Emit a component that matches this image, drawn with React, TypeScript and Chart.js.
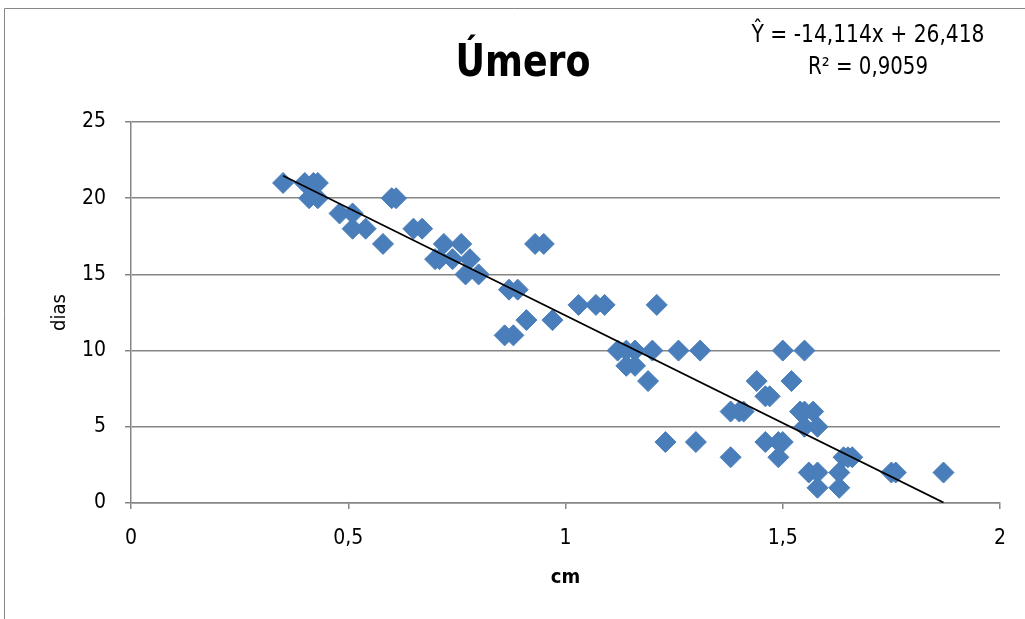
import React, { useEffect, useRef } from 'react';
import { Chart, registerables } from 'chart.js';

Chart.register(...registerables);

const cm = [
  0.35, 0.40, 0.42, 0.43,
  0.41, 0.43, 0.60, 0.61,
  0.48, 0.51,
  0.51, 0.54, 0.65, 0.67,
  0.58, 0.72, 0.76, 0.93, 0.95,
  0.70, 0.71, 0.74, 0.78,
  0.77, 0.80,
  0.87, 0.89,
  1.03, 1.07, 1.09, 1.21,
  0.91, 0.97,
  0.86, 0.88,
  1.12, 1.14, 1.16, 1.20, 1.26, 1.31, 1.50, 1.55,
  1.14, 1.16,
  1.19, 1.44, 1.52,
  1.46, 1.47,
  1.38, 1.40, 1.41, 1.54, 1.55, 1.57,
  1.55, 1.58,
  1.23, 1.30, 1.46, 1.49, 1.50,
  1.38, 1.49, 1.64, 1.65, 1.66,
  1.56, 1.58, 1.63, 1.75, 1.76, 1.87,
  1.58, 1.63,
];
const dias = [
  21, 21, 21, 21,
  20, 20, 20, 20,
  19, 19,
  18, 18, 18, 18,
  17, 17, 17, 17, 17,
  16, 16, 16, 16,
  15, 15,
  14, 14,
  13, 13, 13, 13,
  12, 12,
  11, 11,
  10, 10, 10, 10, 10, 10, 10, 10,
  9, 9,
  8, 8, 8,
  7, 7,
  6, 6, 6, 6, 6, 6,
  5, 5,
  4, 4, 4, 4, 4,
  3, 3, 3, 3, 3,
  2, 2, 2, 2, 2, 2,
  1, 1,
];

const slope = -14.114;
const intercept = 26.418;

const xTickLabels = ['0', '0,5', '1', '1,5', '2'];
const yTickLabels = ['0', '5', '10', '15', '20', '25'];

const chartTitle = 'Úmero';
const equationText = 'Ŷ = -14,114x + 26,418';
const r2Text = 'R² = 0,9059';
const xTitle = 'cm';
const yTitle = 'dias';

const FONT = '"Liberation Sans Narrow", "DejaVu Sans Condensed", "Liberation Sans", sans-serif';

function drawFitted(ctx: CanvasRenderingContext2D, text: string, cx: number, baseline: number, font: string, targetW: number) {
  ctx.save();
  ctx.font = font;
  const w = ctx.measureText(text).width;
  ctx.translate(cx, baseline);
  ctx.scale(targetW / w, 1);
  ctx.textAlign = 'center';
  ctx.textBaseline = 'alphabetic';
  ctx.fillStyle = '#000';
  ctx.fillText(text, 0, 0);
  ctx.restore();
}

export default function App() {
  const ref = useRef<HTMLCanvasElement>(null);

  useEffect(() => {
    document.body.style.margin = '0';
    const canvas = ref.current!;
    const points = cm.map((x, i) => ({ x, y: dias[i] }));
    const xMin = Math.min(...cm);
    const xMax = Math.max(...cm);
    const trend = [
      { x: xMin, y: slope * xMin + intercept },
      { x: xMax, y: slope * xMax + intercept },
    ];

    const decor = {
      id: 'decor',
      beforeDraw(c: any) {
        const ctx = c.ctx as CanvasRenderingContext2D;
        ctx.save();
        ctx.fillStyle = '#fff';
        ctx.fillRect(0, 0, c.width, c.height);
        ctx.strokeStyle = '#868686';
        ctx.lineWidth = 1;
        ctx.beginPath();
        ctx.moveTo(4.5, c.height);
        ctx.lineTo(4.5, 8.5);
        ctx.lineTo(c.width, 8.5);
        ctx.stroke();
        ctx.restore();
      },
      afterDraw(c: any) {
        const ctx = c.ctx as CanvasRenderingContext2D;
        drawFitted(ctx, chartTitle, 523, 76, `bold 44px ${FONT}`, 135);
        drawFitted(ctx, equationText, 868, 42, `24px ${FONT}`, 233);
        drawFitted(ctx, r2Text, 868, 74, `24px ${FONT}`, 120);
      },
    };

    const chart = new Chart(canvas, {
      type: 'scatter',
      data: {
        datasets: [
          {
            type: 'line',
            data: trend,
            borderColor: '#000',
            borderWidth: 1.7,
            pointRadius: 0,
            fill: false,
            order: 0,
          } as any,
          {
            data: points,
            pointStyle: 'rectRot',
            pointRadius: 10.5,
            pointHoverRadius: 10.5,
            backgroundColor: '#4A7EBB',
            borderColor: '#4A7EBB',
            borderWidth: 1,
            order: 1,
          },
        ],
      },
      options: {
        responsive: false,
        animation: false,
        devicePixelRatio: 1,
        layout: { padding: { top: 122, right: 25, bottom: 0, left: 0 } },
        plugins: {
          legend: { display: false },
          tooltip: { enabled: false },
          title: { display: false },
        },
        scales: {
          x: {
            type: 'linear',
            min: 0,
            max: 2,
            ticks: {
              stepSize: 0.5,
              padding: 17,
              color: '#000',
              font: { family: FONT, size: 21 },
              callback: (v: any) => xTickLabels[Math.round(Number(v) / 0.5)] ?? '',
            },
            grid: { drawOnChartArea: false, tickLength: 6, color: '#868686', lineWidth: 1.5 },
            border: { color: '#868686', width: 1.5 },
            title: {
              display: true,
              text: xTitle,
              color: '#000',
              font: { family: FONT, size: 20, weight: 'bold' },
              padding: { top: 0, bottom: 29 },
            },
            afterFit: (s: any) => { s.height = 116; },
          },
          y: {
            type: 'linear',
            min: 0,
            max: 25,
            ticks: {
              stepSize: 5,
              padding: 19,
              color: '#000',
              font: { family: FONT, size: 21 },
              callback: (v: any) => yTickLabels[Math.round(Number(v) / 5)] ?? '',
            },
            grid: { tickLength: 6, color: '#868686', lineWidth: 1.5 },
            border: { color: '#868686', width: 1.5 },
            title: {
              display: true,
              text: yTitle,
              color: '#000',
              font: { family: FONT, size: 20 },
              padding: { top: 48, bottom: 0 },
            },
            afterFit: (s: any) => { s.width = 131; },
          },
        },
      } as any,
      plugins: [decor],
    });

    return () => chart.destroy();
  }, []);

  return (
    <div style={{ width: 1025, height: 619, position: 'relative' }}>
      <canvas ref={ref} width={1025} height={619} style={{ display: 'block' }} />
    </div>
  );
}
